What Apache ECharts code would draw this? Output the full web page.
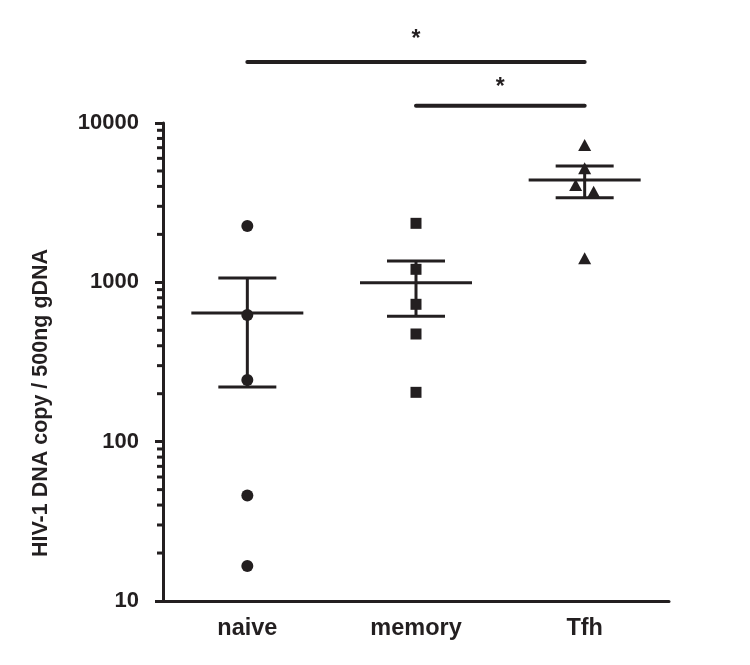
<!DOCTYPE html>
<html>
<head>
<meta charset="utf-8">
<script src="https://cdn.jsdelivr.net/npm/echarts@6/dist/echarts.min.js"></script>
<style>html,body{margin:0;padding:0;background:#fff;}#c{width:750px;height:665px;}</style>
</head>
<body>
<div id="c"></div>
<script>
const categories = ['naive', 'memory', 'Tfh'];
const naiveValues = [2256, 623, 244, 46, 16.6];
const memoryValues = [2346, 1207, 728, 474, 204];
const tfhValues = [7278, 5195, 4083, 3707, 1415];
const means = [641, 994, 4386];
const semUpper = [1064, 1361, 5370];
const semLower = [220, 612, 3397];
const yTickLabels = [10, 100, 1000, 10000];
const minorTickValues = [20, 30, 40, 50, 60, 70, 80, 90, 200, 300, 400, 500, 600, 700, 800, 900, 2000, 3000, 4000, 5000, 6000, 7000, 8000, 9000];
// significance brackets: [from category, to category, bar level, star level]
const brackets = [[0, 2, 24150, 33500], [1, 2, 12843, 16600]];
const starText = ['*', '*'];
const tfhJitter = [0, 0, -9, 9, 0];

const INK = '#231f20';
const FONT = 'Liberation Sans';

const chart = echarts.init(document.getElementById('c'));

const semData = categories.map((c, i) => [i, means[i], semLower[i], semUpper[i]]);

chart.setOption({
  animation: false,
  grid: { left: 163, right: 81, top: 123, bottom: 64, containLabel: false },
  xAxis: {
    type: 'category',
    data: categories,
    boundaryGap: true,
    axisLine: { lineStyle: { color: INK, width: 3 } },
    axisTick: { alignWithLabel: true, length: 8, lineStyle: { color: INK, width: 3 } },
    axisLabel: { color: INK, fontFamily: FONT, fontWeight: 'bold', fontSize: 23.5, margin: 16 },
    splitLine: { show: false }
  },
  yAxis: {
    type: 'log',
    logBase: 10,
    min: yTickLabels[0],
    max: yTickLabels[yTickLabels.length - 1],
    name: 'HIV-1 DNA copy / 500ng gDNA',
    nameLocation: 'middle',
    nameGap: 111,
    nameTextStyle: { color: INK, fontFamily: FONT, fontWeight: 'bold', fontSize: 21.5, padding: [0, 82, 0, 0] },
    axisLine: { show: true, lineStyle: { color: INK, width: 3 } },
    axisTick: { show: true, length: 8, lineStyle: { color: INK, width: 3 } },
    axisLabel: {
      color: INK, fontFamily: FONT, fontWeight: 'bold', fontSize: 22, margin: 24,
      formatter: v => String(Math.round(v))
    },
    splitLine: { show: false }
  },
  series: [
    {
      type: 'custom',
      clip: false,
      silent: true,
      data: minorTickValues.map(v => [0, v]),
      renderItem: (params, api) => {
        const p = api.coord([0, api.value(1)]);
        const x0 = params.coordSys.x;
        return { type: 'line', shape: { x1: x0 - 6, y1: p[1], x2: x0, y2: p[1] }, style: { stroke: INK, lineWidth: 3 } };
      }
    },
    {
      type: 'custom',
      silent: true,
      clip: false,
      data: semData,
      renderItem: (params, api) => {
        const m = api.coord([api.value(0), api.value(1)]);
        const lo = api.coord([api.value(0), api.value(2)]);
        const hi = api.coord([api.value(0), api.value(3)]);
        const st = { stroke: INK, lineWidth: 3 };
        return {
          type: 'group',
          children: [
            { type: 'line', shape: { x1: m[0] - 56, y1: m[1], x2: m[0] + 56, y2: m[1] }, style: st },
            { type: 'line', shape: { x1: m[0], y1: lo[1], x2: m[0], y2: hi[1] }, style: st },
            { type: 'line', shape: { x1: m[0] - 29, y1: hi[1], x2: m[0] + 29, y2: hi[1] }, style: st },
            { type: 'line', shape: { x1: m[0] - 29, y1: lo[1], x2: m[0] + 29, y2: lo[1] }, style: st }
          ]
        };
      }
    },
    {
      type: 'scatter', symbol: 'circle', symbolSize: 12,
      itemStyle: { color: INK, opacity: 1 },
      data: naiveValues.map(v => [0, v])
    },
    {
      type: 'scatter', symbol: 'rect', symbolSize: 11,
      itemStyle: { color: INK, opacity: 1 },
      data: memoryValues.map(v => [1, v])
    },
    {
      type: 'scatter', symbol: 'triangle', symbolSize: [13, 12],
      itemStyle: { color: INK, opacity: 1 },
      data: tfhValues.map((v, i) => ({ value: [2, v], symbolOffset: [tfhJitter[i], 0] }))
    },
    {
      type: 'custom',
      silent: true,
      clip: false,
      data: brackets,
      renderItem: (params, api) => {
        const a = api.coord([api.value(0), api.value(2)]);
        const b = api.coord([api.value(1), api.value(2)]);
        const s = api.coord([api.value(0), api.value(3)]);
        return {
          type: 'group',
          children: [
            { type: 'line', shape: { x1: a[0], y1: a[1], x2: b[0], y2: b[1] }, style: { stroke: INK, lineWidth: 4, lineCap: 'round' } },
            { type: 'text', style: { text: starText[params.dataIndex], x: (a[0] + b[0]) / 2, y: s[1], align: 'center', verticalAlign: 'middle', fill: INK, font: 'bold 23px "Liberation Sans"' } }
          ]
        };
      }
    }
  ]
});
</script>
</body>
</html>
